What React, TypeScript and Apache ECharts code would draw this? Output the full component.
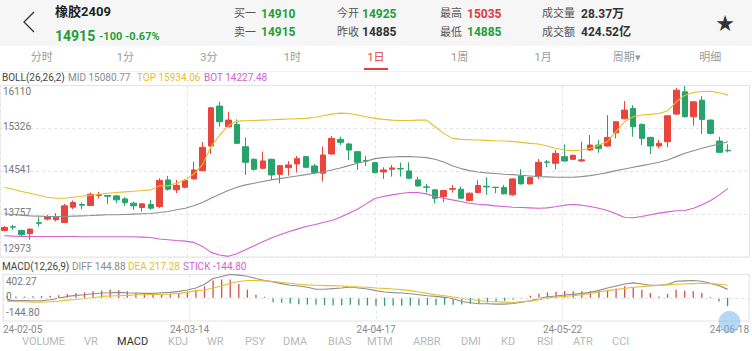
import React, { useEffect, useRef } from 'react';
import * as echarts from 'echarts';

// ---------- data ----------
const dates = [
  '2024-02-05','2024-02-06','2024-02-07','2024-02-08','2024-02-19','2024-02-20','2024-02-21','2024-02-22','2024-02-23','2024-02-26','2024-02-27','2024-02-28','2024-02-29',
  '2024-03-01','2024-03-04','2024-03-05','2024-03-06','2024-03-07','2024-03-08','2024-03-11','2024-03-12','2024-03-13','2024-03-14','2024-03-15','2024-03-18','2024-03-19','2024-03-20','2024-03-21','2024-03-22','2024-03-25','2024-03-26','2024-03-27','2024-03-28','2024-03-29',
  '2024-04-01','2024-04-02','2024-04-03','2024-04-08','2024-04-09','2024-04-10','2024-04-11','2024-04-12','2024-04-15','2024-04-16','2024-04-17','2024-04-18','2024-04-19','2024-04-22','2024-04-23','2024-04-24','2024-04-25','2024-04-26','2024-04-29','2024-04-30',
  '2024-05-06','2024-05-07','2024-05-08','2024-05-09','2024-05-10','2024-05-13','2024-05-14','2024-05-15','2024-05-16','2024-05-17','2024-05-20','2024-05-21','2024-05-22','2024-05-23','2024-05-24','2024-05-27','2024-05-28','2024-05-29','2024-05-30','2024-05-31',
  '2024-06-03','2024-06-04','2024-06-05','2024-06-06','2024-06-07','2024-06-11','2024-06-12','2024-06-13','2024-06-14','2024-06-17','2024-06-18'
];

const opens = [
  13459,13527,13459,13398,13600,13666,13654,13605,13884,13933,
  13915,14100,14097,14091,14036,13957,13878,13933,13897,14383,
  14201,14249,14401,14553,15003,15733,15356,15398,14991,14760,
  14596,14760,14486,14608,14675,14809,14638,14505,14857,15125,
  15040,14900,14740,14699,14529,14578,14590,14547,14383,14255,
  14201,14079,14213,14213,14006,14152,14267,14249,14243,14110,
  14456,14310,14456,14711,14687,14809,14760,14730,14930,15021,
  15003,15246,15502,15690,15398,15161,15003,15082,15587,15994,
  15538,15842,15477,15094,14925
];
const closes = [
  13513,13520,13380,13483,13590,13714,13702,13909,13970,13921,
  14122,14110,14085,14018,13970,13909,13945,13866,14371,14213,
  14280,14371,14565,14979,15702,15447,15477,15052,14705,14577,
  14730,14474,14644,14657,14772,14614,14517,14839,15143,15070,
  14930,14705,14730,14517,14565,14602,14584,14413,14273,14249,
  14048,14188,14225,14048,14140,14280,14255,14243,14128,14401,
  14310,14425,14705,14705,14869,14729,14833,14750,15021,14961,
  15161,15447,15660,15356,15143,15003,15052,15556,16025,15538,
  15812,15490,15234,14888,14915
];
const lows = [
  13440,13471,13349,13289,13532,13641,13623,13593,13848,13848,
  13909,14043,13945,13957,13909,13836,13805,13836,13866,14188,
  14140,14231,14395,14535,14857,15356,15344,15040,14474,14553,
  14577,14383,14322,14462,14517,14596,14486,14353,14845,15021,
  14748,14565,14638,14498,14401,14444,14444,14401,14261,14152,
  13957,13976,14152,14036,13994,14140,14110,14140,14116,14091,
  14298,14298,14401,14614,14578,14717,14748,14717,14918,14881,
  14991,15143,15490,15173,15021,14857,14961,14979,15575,15526,
  15374,15222,15216,14881,14885
];
const highs = [
  13544,13562,13471,13495,13702,13745,13775,13945,14006,13970,
  14152,14164,14097,14110,14067,13988,13957,14018,14413,14456,
  14383,14395,14717,15076,15721,15812,15629,15490,15161,14778,
  14900,14772,14657,14729,14821,14821,14675,14991,15186,15173,
  15064,14912,14821,14711,14614,14657,14699,14705,14444,14310,
  14213,14201,14292,14261,14152,14383,14432,14249,14292,14413,
  14578,14444,14766,14748,14930,15033,14845,15082,15204,15113,
  15568,15447,15824,15751,15417,15173,15113,15568,16067,16100,
  15812,15915,15490,15173,15035
];

const bollTop = [
  14249,14213,14170,14140,14103,14067,14049,14049,14067,14085,
  14103,14122,14140,14152,14164,14176,14188,14201,14274,14274,
  14322,14383,14492,14657,14991,15204,15374,15459,15465,15471,
  15477,15483,15490,15496,15502,15508,15526,15556,15587,15605,
  15599,15569,15538,15508,15490,15477,15471,15471,15477,15477,
  15356,15234,15143,15125,15119,15113,15107,15100,15094,15088,
  15070,15052,15040,15003,14961,14930,14918,14930,14961,15015,
  15082,15265,15447,15538,15569,15581,15599,15648,15812,15933,
  15982,16000,16006,15976,15934.06
];
const bollMid = [
  13763,13751,13739,13726,13720,13714,13714,13714,13720,13726,
  13732,13739,13745,13745,13751,13757,13763,13769,13787,13805,
  13836,13866,13909,13970,14049,14122,14188,14249,14292,14322,
  14353,14383,14407,14432,14456,14480,14505,14529,14565,14602,
  14644,14687,14724,14772,14790,14803,14809,14809,14803,14790,
  14760,14711,14644,14590,14553,14529,14511,14499,14486,14480,
  14468,14456,14444,14438,14432,14432,14432,14444,14462,14486,
  14517,14553,14584,14614,14644,14675,14705,14748,14809,14869,
  14918,14961,15003,15040,15080.77
];
const bollBot = [
  13362,13355,13349,13349,13349,13349,13349,13349,13349,13343,
  13343,13343,13343,13343,13343,13343,13337,13331,13301,13289,
  13276,13264,13240,13167,13058,13009,12985,13033,13106,13179,
  13252,13319,13380,13435,13483,13532,13562,13605,13641,13702,
  13775,13848,13945,14043,14079,14110,14134,14152,14152,14128,
  14079,14049,14018,13988,13957,13939,13927,13909,13897,13884,
  13878,13872,13866,13872,13891,13921,13933,13921,13897,13866,
  13824,13763,13696,13690,13714,13745,13775,13799,13818,13824,
  13866,13927,14006,14110,14227.48
];

const macdDiff = [
  -41,-47,-47,-52,-52,-35,-6,23,41,52,
  70,82,87,93,87,82,76,76,87,93,
  111,134,169,233,333,368,402.27,391,373,333,
  298,274,245,216,204,181,146,146,158,169,
  187,169,152,123,99,88,82,70,53,35,
  23,6,-17,-64,-87,-105,-105,-111,-111,-99,
  -76,-52,-12,18,29,47,58,76,93,128,
  169,204,239,257,239,216,216,228,286,292,
  298,286,251,210,144.88
];
const macdDea = [
  -64,-70,-70,-76,-76,-70,-58,-41,-29,-12,
  0,23,29,35,41,53,53,58,58,64,
  76,93,123,134,169,204,251,280,298,298,
  292,280,263,251,233,222,216,210,210,204,
  192,187,181,169,163,152,140,123,99,76,
  53,35,12,-12,-29,-47,-64,-70,-76,-82,
  -70,-58,-35,-6,12,23,35,53,76,99,
  123,140,163,181,192,204,216,222,233,239,
  245,251,245,233,217.28
];
const macdStick = [
  25,20,20,25,30,35,45,64,82,93,
  111,122,140,128,111,82,70,64,52,64,
  82,111,140,198,297,315,315,239,140,52,
  17,-76,-87,-99,-111,-117,-122,-128,-128,-128,
  -122,-128,-134,-134,-140,-140,-140,-140,-134,-128,
  -128,-122,-122,-117,-105,-93,-82,-70,-52,-35,
  -12,35,70,93,105,117,111,111,117,122,
  128,160,200,180,140,82,23,64,140,122,
  111,82,15,-64,-144.80
];

const priceTicks = ['12973', '13757', '14541', '15326', '16110'];
const priceMin = 12973;
const priceMax = 16110;
const macdTicks = [402.27, 0, -144.8];
const macdSpan = 402.27;
const dateTicks = ['24-02-05', '24-03-14', '24-04-17', '24-05-22', '24-06-18'];

const periodTabs = ['分时', '1分', '3分', '1时', '1日', '1周', '1月', '周期▾', '明细'];
const activePeriod = '1日';
const indicatorTabs = ['VOLUME', 'VR', 'MACD', 'KDJ', 'WR', 'PSY', 'DMA', 'BIAS', 'MTM', 'ARBR', 'DMI', 'KD', 'RSI', 'ATR', 'CCI'];
const indicatorX = [22, 84, 117, 168, 207, 245, 283, 328, 367, 413, 461, 501, 537, 573, 612];
const activeIndicator = 'MACD';

const title = '橡胶2409';
const lastPrice = '14915';
const change = '-100 -0.67%';
const quoteRow1 = [
  { label: '买一', value: '14910', color: 'green' },
  { label: '今开', value: '14925', color: 'green' },
  { label: '最高', value: '15035', color: 'red' },
  { label: '成交量', value: '28.37万', color: 'dark' },
];
const quoteRow2 = [
  { label: '卖一', value: '14915', color: 'green' },
  { label: '昨收', value: '14885', color: 'dark' },
  { label: '最低', value: '14885', color: 'green' },
  { label: '成交额', value: '424.52亿', color: 'dark' },
];
const quoteLabelX = [234, 337, 440, 542];
const quoteValueX = [261, 362, 467, 581];

// ---------- styling ----------
const FONT = 'Roboto, "Noto Sans CJK SC", "Noto Sans", sans-serif';
const UP = '#e8453c';
const DOWN = '#27a36c';
const GREEN_TXT = '#1f9e3a';
const RED_TXT = '#e0383e';
const TOP_C = '#e6be2e';
const MID_C = '#8e8e8e';
const BOT_C = '#cf62d2';
const GRID_C = '#e4e4e4';

export default function App() {
  const ref = useRef<HTMLDivElement>(null);

  useEffect(() => {
    if (!ref.current) return;
    const chart = echarts.init(ref.current, undefined, { renderer: 'svg' });
    const cats = dates.concat(['', '']);
    const candles = dates.map((_, i) => [opens[i], closes[i], lows[i], highs[i]]);

    const txt = (text: string, x: number, y: number, fill: string, size: number, weight: string = 'normal', align: string = 'left') => ({
      type: 'text',
      x,
      y,
      silent: true,
      style: {
        text,
        fill,
        font: `${weight} ${size}px ${FONT}`,
        textAlign: align,
        textVerticalAlign: 'middle',
      },
    });

    const colorOf = (c: string) => (c === 'green' ? GREEN_TXT : c === 'red' ? RED_TXT : '#333');

    const graphics: any[] = [
      { type: 'rect', shape: { x: 0, y: 0, width: 752, height: 46 }, style: { fill: '#f6f6f6' }, silent: true, z: -10 },
      { type: 'polyline', shape: { points: [[34, 12], [24, 22], [34, 32]] }, style: { stroke: '#333', lineWidth: 1.3, fill: null }, silent: true },
      txt(title, 55, 11.5, '#222', 13, 'bold'),
      txt(lastPrice, 55, 35.5, GREEN_TXT, 14, 'bold'),
      txt(change, 99, 36, GREEN_TXT, 11, 'bold'),
      { type: 'text', x: 725, y: 23, silent: true, style: { text: '★', fill: '#333', font: '22px "DejaVu Sans"', textAlign: 'center', textVerticalAlign: 'middle' } },
      { type: 'line', shape: { x1: 0, y1: 71.5, x2: 752, y2: 71.5 }, style: { stroke: '#efefef', lineWidth: 1 }, silent: true },
      { type: 'rect', shape: { x: 364, y: 68, width: 24, height: 2 }, style: { fill: '#e0403a' }, silent: true },
      { type: 'circle', shape: { cx: 729.5, cy: 322, r: 11 }, style: { fill: 'rgba(120,185,235,0.55)' }, silent: true, z: 100 },
    ];
    quoteRow1.forEach((q, i) => {
      graphics.push(txt(q.label, quoteLabelX[i], 13.5, '#555', 11));
      graphics.push(txt(q.value, quoteValueX[i], 13.5, colorOf(q.color), 12, 'bold'));
    });
    quoteRow2.forEach((q, i) => {
      graphics.push(txt(q.label, quoteLabelX[i], 32, '#555', 11));
      graphics.push(txt(q.value, quoteValueX[i], 32, colorOf(q.color), 12, 'bold'));
    });
    periodTabs.forEach((t, i) => {
      graphics.push(txt(t, (752 / 9) * (i + 0.5), 57, t === activePeriod ? '#e0403a' : '#9a9a9a', 11, 'normal', 'center'));
    });
    indicatorTabs.forEach((t, i) => {
      graphics.push(txt(t, indicatorX[i], 341, t === activeIndicator ? '#333' : '#b8b8b8', 11));
    });
    const last = dates.length - 1;
    graphics.push(txt('BOLL(26,26,2)', 2, 77, '#444', 10));
    graphics.push(txt(`MID ${bollMid[last].toFixed(2)}`, 68, 77, '#8a8a8a', 10));
    graphics.push(txt(`TOP ${bollTop[last].toFixed(2)}`, 137, 77, TOP_C, 10));
    graphics.push(txt(`BOT ${bollBot[last].toFixed(2)}`, 204, 77, BOT_C, 10));
    graphics.push(txt('MACD(12,26,9)', 2, 266, '#444', 10));
    graphics.push(txt(`DIFF ${macdDiff[last].toFixed(2)}`, 72, 266, '#8a8a8a', 10));
    graphics.push(txt(`DEA ${macdDea[last].toFixed(2)}`, 128, 266, TOP_C, 10));
    graphics.push(txt(`STICK ${macdStick[last].toFixed(2)}`, 183, 266, BOT_C, 10));

    const lblBase = { fontSize: 10, color: '#777', fontFamily: FONT };
    const dashed = { show: true, lineStyle: { color: GRID_C, type: [3, 3] as any, width: 1 } };

    const option: any = {
      animation: false,
      backgroundColor: '#ffffff',
      textStyle: { fontFamily: FONT },
      graphic: graphics,
      grid: [
        { left: 0, right: 2.5, top: 85.5, height: 171.5, show: true, borderColor: GRID_C, borderWidth: 1, backgroundColor: 'transparent' },
        { left: 0, right: 2.5, top: 274.5, height: 46.5, show: true, borderColor: GRID_C, borderWidth: 1, backgroundColor: 'transparent' },
      ],
      xAxis: [
        { type: 'category', gridIndex: 0, data: cats, boundaryGap: true, show: false, position: 'bottom' },
        { type: 'value', gridIndex: 0, min: 0, max: 4, interval: 1, position: 'top', axisLine: { show: false }, axisTick: { show: false }, axisLabel: { show: false }, splitLine: dashed },
        { type: 'category', gridIndex: 1, data: cats, boundaryGap: true, show: false, position: 'top' },
        {
          type: 'value', gridIndex: 1, min: 0, max: 4, interval: 1, position: 'bottom',
          axisLine: { show: false }, axisTick: { show: false },
          axisLabel: { show: true, formatter: (v: number) => dateTicks[v] ?? '', color: '#8a8a8a', fontSize: 10, margin: 3, fontFamily: FONT, alignMinLabel: 'left', alignMaxLabel: 'right' },
          splitLine: dashed,
        },
      ],
      yAxis: [
        { type: 'value', gridIndex: 0, min: priceMin, max: priceMax, show: false, position: 'right' },
        {
          type: 'value', gridIndex: 0, min: 0, max: 4, interval: 1, position: 'left',
          axisLine: { show: false }, axisTick: { show: false },
          splitLine: dashed,
          axisLabel: {
            inside: true, margin: 3,
            formatter: (v: number) => {
              const s = priceTicks[v] ?? '';
              if (v === 4) return `{t|${s}}`;
              if (v === 0) return `{b|${s}}`;
              return `{m|${s}}`;
            },
            rich: {
              t: { ...lblBase, padding: [11, 0, 0, 0] },
              b: { ...lblBase, padding: [0, 0, 17, 0] },
              m: { ...lblBase, padding: [0, 0, 3, 0] },
            },
          },
        },
        {
          type: 'value', gridIndex: 1, min: -macdSpan, max: macdSpan, position: 'left',
          axisLine: { show: false }, axisTick: { show: false }, splitLine: { show: false },
          axisLabel: {
            inside: true, margin: 3,
            customValues: macdTicks,
            formatter: (v: number) => {
              if (v === 0) return '{m|0}';
              return v > 0 ? `{t|${v.toFixed(2)}}` : `{b|${v.toFixed(2)}}`;
            },
            rich: {
              t: { ...lblBase, padding: [13, 0, 0, 0] },
              b: { ...lblBase, padding: [12, 0, 0, 0] },
              m: { ...lblBase, padding: [0, 0, 2, 0] },
            },
          },
        },
      ],
      series: [
        {
          type: 'candlestick', xAxisIndex: 0, yAxisIndex: 0, data: candles, barWidth: 6,
          itemStyle: { color: UP, color0: DOWN, borderColor: UP, borderColor0: DOWN, borderWidth: 1 },
        },
        { type: 'line', xAxisIndex: 0, yAxisIndex: 0, data: bollTop, symbol: 'none', lineStyle: { color: TOP_C, width: 1.1 } },
        { type: 'line', xAxisIndex: 0, yAxisIndex: 0, data: bollMid, symbol: 'none', lineStyle: { color: MID_C, width: 1.1 } },
        { type: 'line', xAxisIndex: 0, yAxisIndex: 0, data: bollBot, symbol: 'none', lineStyle: { color: BOT_C, width: 1.1 } },
        {
          type: 'bar', xAxisIndex: 2, yAxisIndex: 2, barWidth: 1.3,
          data: macdStick.map((v) => ({ value: v, itemStyle: { color: v >= 0 ? '#d2504a' : '#33997a' } })),
          markLine: {
            silent: true, symbol: ['none', 'none'], label: { show: false },
            lineStyle: { color: GRID_C, type: [3, 3], width: 1 },
            data: [{ yAxis: 0 }],
          },
        },
        { type: 'line', xAxisIndex: 2, yAxisIndex: 2, data: macdDiff, symbol: 'none', lineStyle: { color: MID_C, width: 1.1 } },
        { type: 'line', xAxisIndex: 2, yAxisIndex: 2, data: macdDea, symbol: 'none', lineStyle: { color: TOP_C, width: 1.1 } },
      ],
    };
    chart.setOption(option);
    return () => chart.dispose();
  }, []);

  return (
    <div style={{ position: 'fixed', left: 0, top: 0, width: 752, height: 351, background: '#fff' }}>
      <div ref={ref} style={{ width: 752, height: 351 }} />
    </div>
  );
}
